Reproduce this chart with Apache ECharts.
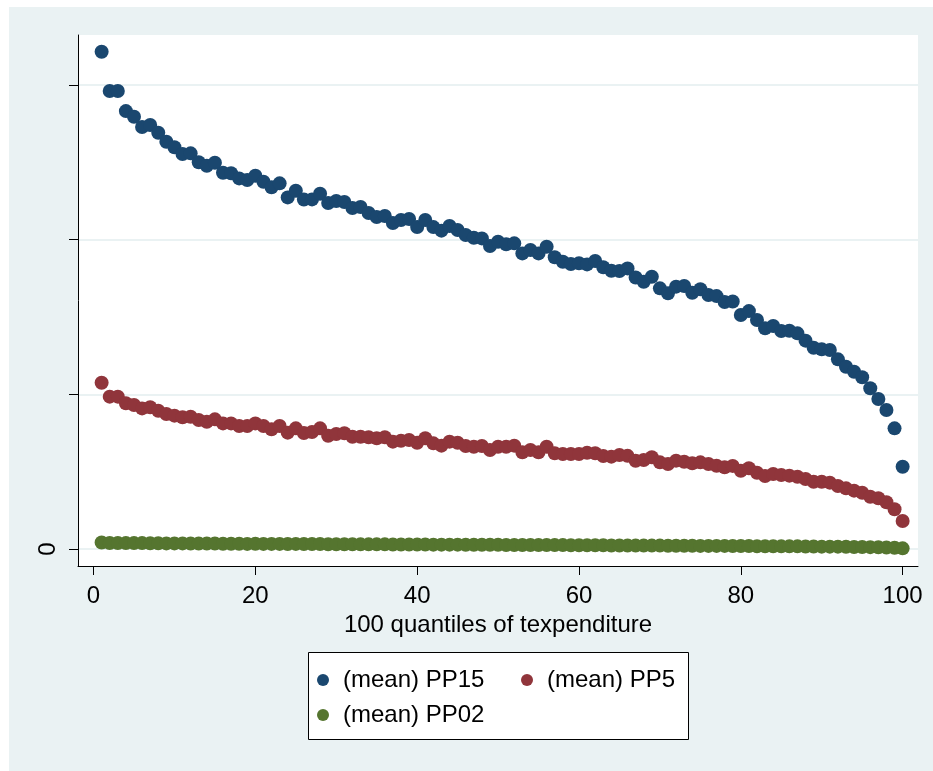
<!DOCTYPE html>
<html>
<head>
<meta charset="utf-8">
<script src="https://cdn.jsdelivr.net/npm/echarts@6/dist/echarts.min.js"></script>
<style>
  html, body { margin: 0; padding: 0; background: #ffffff; }
  #chart { position: absolute; left: 9px; top: 7px; width: 924px; height: 764px; background: #eaf2f3; }
</style>
</head>
<body>
<div id="chart"></div>
<script>
// 100 quantiles of texpenditure
const quantiles = [
  1, 2, 3, 4, 5, 6, 7, 8, 9, 10, 11, 12, 13, 14, 15, 16, 17, 18, 19, 20,
  21, 22, 23, 24, 25, 26, 27, 28, 29, 30, 31, 32, 33, 34, 35, 36, 37, 38, 39, 40,
  41, 42, 43, 44, 45, 46, 47, 48, 49, 50, 51, 52, 53, 54, 55, 56, 57, 58, 59, 60,
  61, 62, 63, 64, 65, 66, 67, 68, 69, 70, 71, 72, 73, 74, 75, 76, 77, 78, 79, 80,
  81, 82, 83, 84, 85, 86, 87, 88, 89, 90, 91, 92, 93, 94, 95, 96, 97, 98, 99, 100
];

const pp15 = [
  3.215, 2.961, 2.961, 2.831, 2.794, 2.728, 2.741, 2.691, 2.633, 2.597,
  2.553, 2.558, 2.500, 2.478, 2.497, 2.432, 2.429, 2.396, 2.385, 2.413,
  2.374, 2.338, 2.364, 2.273, 2.316, 2.259, 2.260, 2.297, 2.237, 2.250,
  2.243, 2.204, 2.211, 2.172, 2.146, 2.153, 2.107, 2.127, 2.133, 2.081,
  2.127, 2.081, 2.058, 2.088, 2.062, 2.030, 2.012, 2.008, 1.959, 1.986,
  1.970, 1.976, 1.911, 1.933, 1.911, 1.954, 1.886, 1.857, 1.842, 1.847,
  1.840, 1.862, 1.821, 1.799, 1.797, 1.814, 1.755, 1.728, 1.760, 1.685,
  1.653, 1.696, 1.700, 1.657, 1.679, 1.642, 1.635, 1.597, 1.600, 1.513,
  1.538, 1.480, 1.427, 1.442, 1.409, 1.411, 1.394, 1.347, 1.301, 1.291,
  1.286, 1.226, 1.178, 1.146, 1.110, 1.039, 0.970, 0.899, 0.780, 0.532
];

const pp5 = [
  1.075, 0.985, 0.985, 0.942, 0.931, 0.909, 0.916, 0.894, 0.873, 0.862,
  0.851, 0.855, 0.834, 0.823, 0.838, 0.812, 0.812, 0.795, 0.795, 0.812,
  0.795, 0.774, 0.795, 0.752, 0.780, 0.750, 0.756, 0.780, 0.732, 0.743,
  0.748, 0.726, 0.726, 0.722, 0.716, 0.722, 0.694, 0.700, 0.705, 0.687,
  0.716, 0.683, 0.668, 0.694, 0.687, 0.666, 0.661, 0.666, 0.640, 0.661,
  0.661, 0.668, 0.625, 0.640, 0.625, 0.661, 0.619, 0.614, 0.614, 0.614,
  0.622, 0.619, 0.601, 0.597, 0.608, 0.602, 0.570, 0.575, 0.593, 0.560,
  0.549, 0.571, 0.564, 0.554, 0.560, 0.549, 0.538, 0.528, 0.537, 0.506,
  0.522, 0.493, 0.472, 0.485, 0.478, 0.474, 0.467, 0.452, 0.435, 0.435,
  0.429, 0.407, 0.392, 0.377, 0.364, 0.338, 0.328, 0.302, 0.257, 0.181
];

const pp02 = [
  0.042, 0.039, 0.039, 0.038, 0.038, 0.038, 0.037, 0.037, 0.036, 0.036,
  0.036, 0.035, 0.035, 0.035, 0.035, 0.034, 0.034, 0.034, 0.033, 0.034,
  0.033, 0.033, 0.033, 0.032, 0.033, 0.032, 0.032, 0.032, 0.031, 0.031,
  0.031, 0.031, 0.030, 0.030, 0.030, 0.030, 0.029, 0.029, 0.029, 0.029,
  0.029, 0.028, 0.028, 0.028, 0.028, 0.027, 0.027, 0.027, 0.027, 0.027,
  0.026, 0.026, 0.026, 0.026, 0.025, 0.026, 0.025, 0.025, 0.024, 0.024,
  0.024, 0.024, 0.024, 0.023, 0.023, 0.023, 0.022, 0.022, 0.022, 0.022,
  0.021, 0.021, 0.021, 0.021, 0.020, 0.020, 0.020, 0.020, 0.019, 0.019,
  0.019, 0.018, 0.018, 0.018, 0.017, 0.017, 0.017, 0.016, 0.016, 0.015,
  0.015, 0.015, 0.014, 0.013, 0.013, 0.012, 0.011, 0.010, 0.008, 0.004
];

const xTicks = [0, 20, 40, 60, 80, 100];
const yTicks = [0, 1, 2, 3];
const yLabelTicks = [0];

const seriesNames = ['(mean) PP15', '(mean) PP5', '(mean) PP02'];
const colors = ['#1a476f', '#90353b', '#55752f'];

const font = '"Liberation Sans", Arial, sans-serif';

function pairs(ys) {
  return quantiles.map((q, i) => [q, ys[i]]);
}

const chart = echarts.init(document.getElementById('chart'));
chart.setOption({
  animation: false,
  color: colors,
  textStyle: { fontFamily: font },
  grid: {
    left: 69, right: 15, top: 28, bottom: 205,
    show: true, backgroundColor: '#ffffff', borderWidth: 0
  },
  xAxis: {
    type: 'value',
    min: -1.92,
    max: 101.9,
    name: '100 quantiles of texpenditure',
    nameLocation: 'middle',
    nameGap: 45,
    nameTextStyle: { fontSize: 24, color: '#000', fontFamily: font },
    axisLine: { show: true, onZero: false, lineStyle: { color: '#000', width: 1 } },
    axisTick: { show: true, length: 9, customValues: xTicks, lineStyle: { color: '#000' } },
    axisLabel: { customValues: xTicks, fontSize: 24, color: '#000', margin: 18, fontFamily: font },
    splitLine: { show: false }
  },
  yAxis: {
    type: 'value',
    min: -0.11,
    max: 3.323,
    axisLine: { show: true, onZero: false, lineStyle: { color: '#000', width: 1 } },
    axisTick: { show: true, length: 9, customValues: yTicks, lineStyle: { color: '#000' } },
    axisLabel: { customValues: yLabelTicks, rotate: 90, fontSize: 24, color: '#000', margin: 18, fontFamily: font },
    splitLine: { show: true, lineStyle: { color: '#eaf2f3', width: 2 } }
  },
  legend: {
    data: seriesNames,
    orient: 'horizontal',
    left: 308,
    top: 661,
    width: 420,
    padding: 0,
    itemGap: 11,
    itemWidth: 12,
    itemHeight: 12,
    icon: 'circle',
    textStyle: {
      fontSize: 24, color: '#000', fontFamily: font,
      width: 167, lineHeight: 24, padding: [0, 0, 0, 9]
    }
  },
  graphic: [{
    type: 'rect',
    z: -1,
    shape: { x: 299.5, y: 645.5, width: 380, height: 87 },
    style: { fill: '#ffffff', stroke: '#000000', lineWidth: 1 }
  }],
  series: seriesNames.map((name, k) => ({
    name: name,
    type: 'scatter',
    symbol: 'circle',
    symbolSize: 14,
    data: pairs([pp15, pp5, pp02][k]),
    itemStyle: { color: colors[k], opacity: 1 }
  }))
});
</script>
</body>
</html>
